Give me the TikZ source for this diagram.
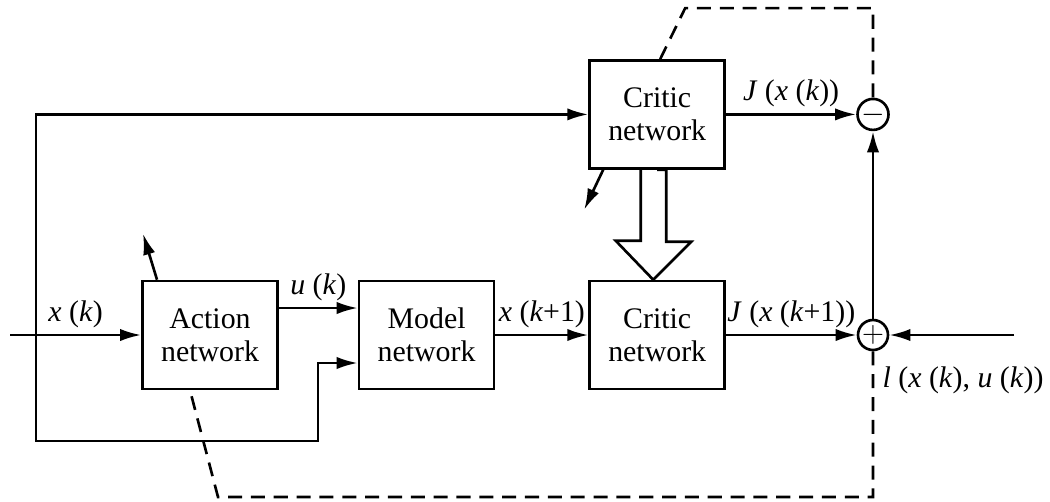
\documentclass[tikz,border=0pt]{standalone}
\usepackage{fontspec}
\setmainfont{Liberation Serif}
\usetikzlibrary{positioning,arrows.meta}

\begin{document}
\begin{tikzpicture}[x=0.02cm, y=-0.02cm, >={Latex[length=12pt,width=7pt]}, line width=1.5pt]

\tikzstyle{every node}=[font=\fontsize{17}{19}\selectfont]
\tikzstyle{net} = [rectangle, draw, align=center, minimum width=2.7cm, minimum height=2.16cm]
\tikzstyle{sum} = [circle, draw, inner sep=0pt, minimum size=0.6cm]
\tikzstyle{fb} = [dash pattern=on 8pt off 5pt]

\useasboundingbox (0,0) rectangle (1050,501);

% Nodes
\node[net] (action) at (210,335) {Action\\network};
\node[net, right=1.58cm of action] (model) {Model\\network};
\node[net, right=1.86cm of model] (critic) {Critic\\network};
\node[net, above=2.2cm of critic] (critictop) {Critic\\network};

\coordinate (rcol) at (873,0);
\node[sum] (minus) at (critictop -| rcol) {$-$};
\node[sum] (plus) at (critic -| rcol) {$+$};

\coordinate (in) at (10,335);
\coordinate (split) at (36,335);
\coordinate (bend) at (318,441);
\coordinate (dashcorner) at (218,497);
\path (plus) ++(141,0) coordinate (uin);

% Lines
\draw[->] (in) -- node[above] {\textit{x} (\textit{k})} (action);
\draw[->] (split) |- (critictop);
\draw[->] (split) |- (bend) |- ([yshift=-0.56cm]model.west);
\draw[->] ([yshift=0.54cm]action.east) -- node[above] {\textit{u} (\textit{k})} ([yshift=0.54cm]model.west);
\draw[->] (model) -- node[above] {\textit{x} (\textit{k}+1)} (critic);
\draw[->] (critic) -- node[above] {\textit{J} (\textit{x} (\textit{k}+1))} (plus);
\draw[->] (critictop) -- node[above] {\textit{J} (\textit{x} (\textit{k}))} (minus);
\draw[->] (uin) -- (plus);
\draw[->] (plus) -- (minus);
\node (utility) at (963,380) {\textit{l} (\textit{x} (\textit{k}), \textit{u} (\textit{k}))};

% critic output feeds the next critic
\draw ([xshift=-0.33cm]critictop.south) -- ++(0,71) -- ++(-25,0) -- ([xshift=-0.08cm]critic.north)
  -- ++(38,-38) -- ++(-25,0) |- (critictop.south);

% weight updates
\draw[->] ([xshift=-1.06cm]action.north) -- ++(-14,-46);
\draw[->] ([xshift=-1.08cm]critictop.south) -- ++(-19,40);
\draw[fb] ([xshift=0.06cm]critictop.north) -- ++(25,-51) -| (minus);
\draw[fb] (plus) |- (dashcorner) -- ([xshift=-0.4cm]action.south);

\end{tikzpicture}
\end{document}
